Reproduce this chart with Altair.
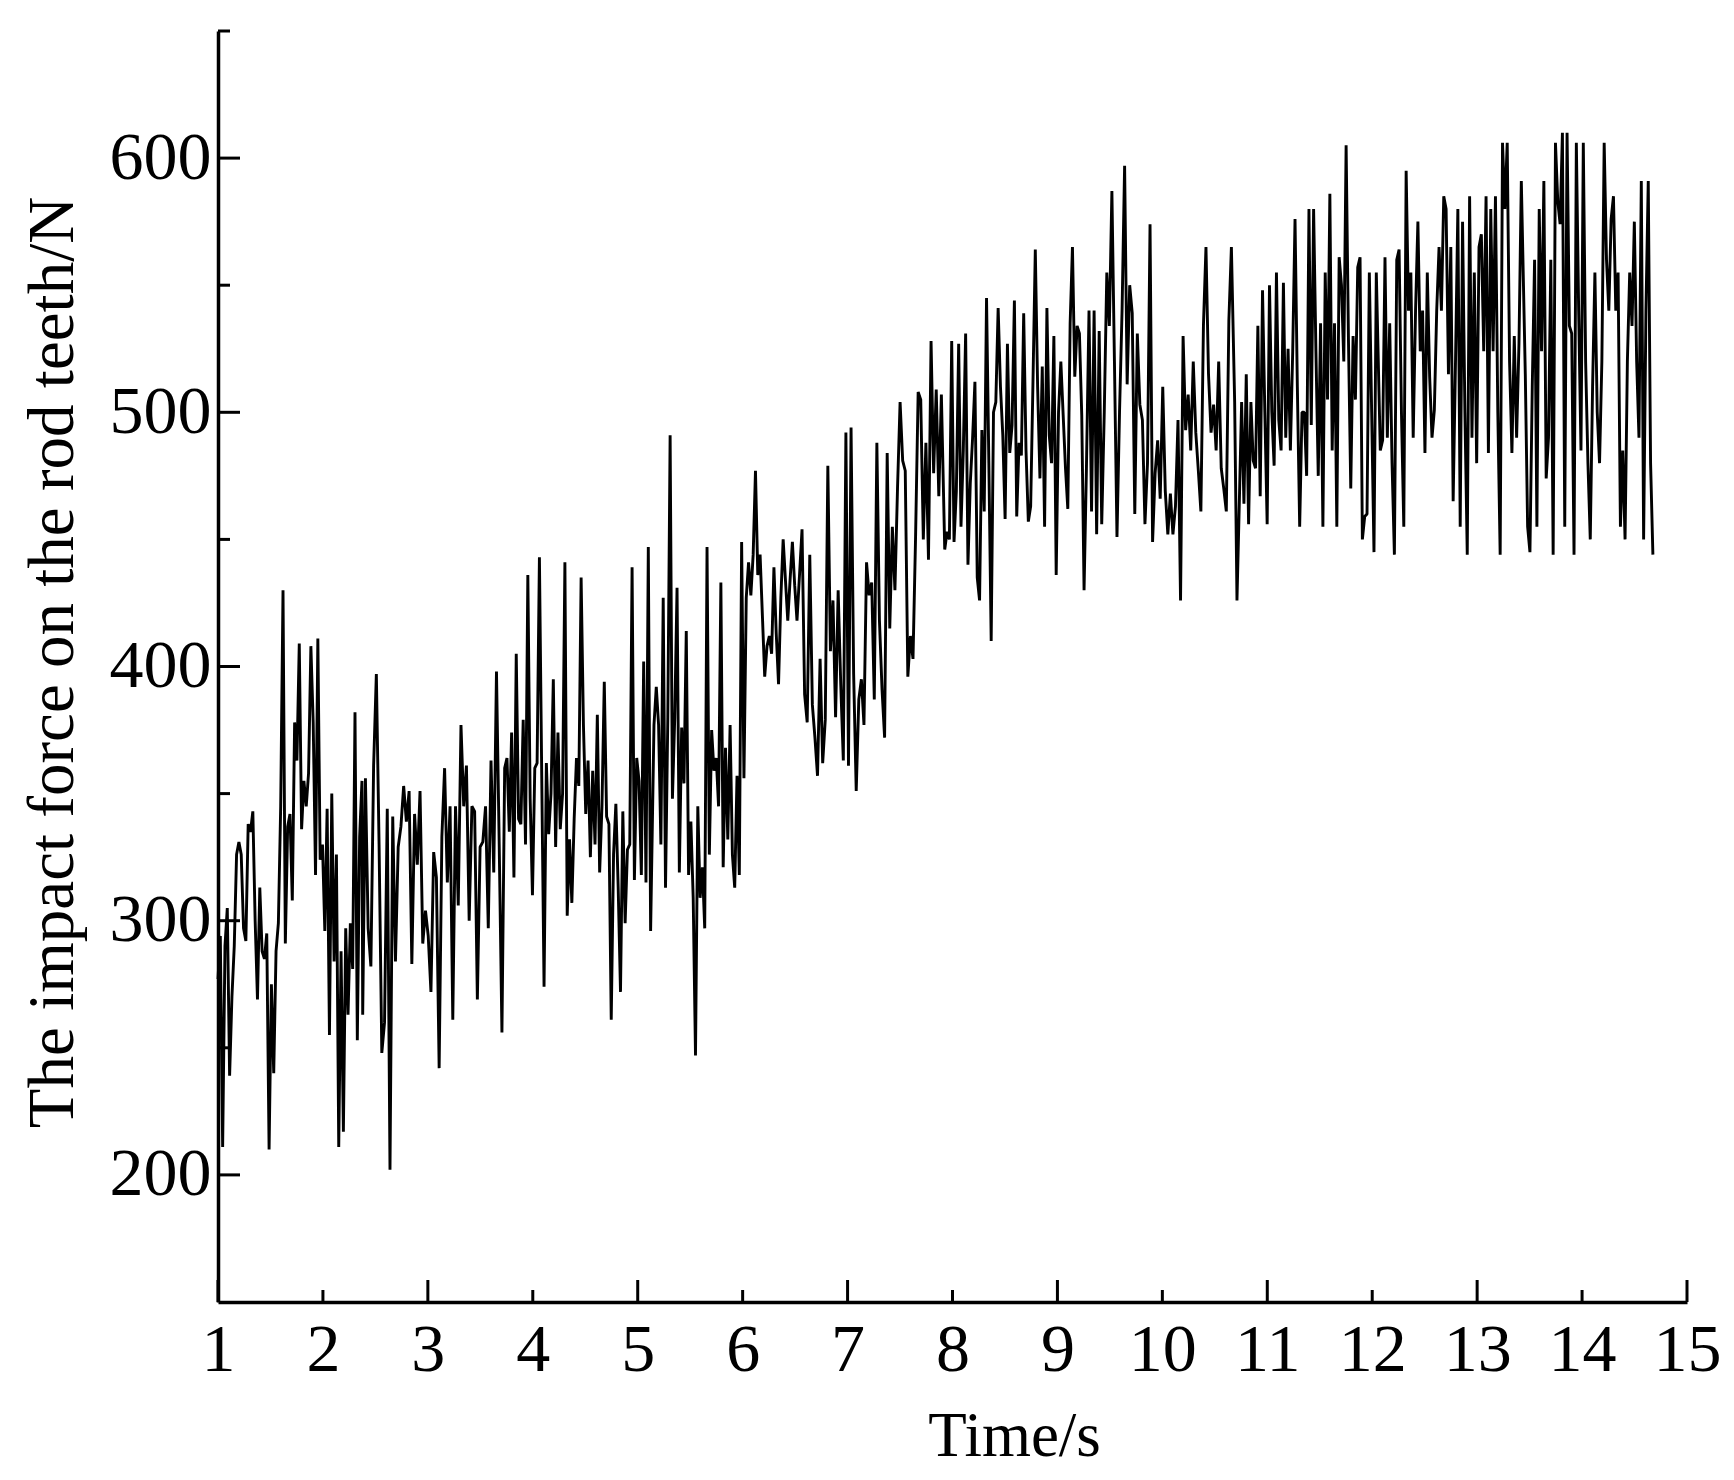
import altair as alt
import pandas as pd

seg_times = [
    (1.000, 2.372), (2.379, 3.706), (3.732, 5.123), (5.155, 6.518), (6.566, 7.894),
    (7.926, 9.276), (9.301, 10.658), (10.689, 12.039), (12.077, 13.421), (13.459, 14.675),
]

force_1 = [277, 294, 211, 290, 305, 239, 270, 290, 326, 331, 326, 297, 292, 338, 335, 343, 300, 269,
           313, 288, 285, 295, 210, 275, 240, 288, 299, 345, 430, 291, 337, 342, 308, 378, 363, 409,
           336, 355, 345, 358, 408, 378, 318, 411, 324, 330, 296, 344, 255, 350, 284, 326, 211, 288,
           217, 297, 263, 299, 281, 382, 253, 333, 355]
force_2 = [263, 356, 297, 282, 361, 397, 330, 248, 260, 344, 202, 341, 284, 329, 337, 353, 339, 351,
           283, 342, 322, 351, 291, 304, 294, 272, 327, 317, 242, 333, 360, 315, 345, 261, 345, 306,
           377, 345, 361, 300, 345, 343, 269, 329, 331, 345, 297, 363, 319, 398, 330, 256]
force_3 = [360, 364, 335, 374, 317, 405, 340, 338, 379, 330, 436, 348, 310, 360, 362, 443, 357, 274,
           362, 334, 350, 395, 329, 374, 336, 350, 441, 302, 332, 307, 340, 364, 353, 435, 377, 342,
           363, 325, 359, 330, 381, 319, 345, 394, 341, 338, 261, 326, 346, 313, 272, 343, 299, 328,
           330, 439, 316, 364, 355, 318, 402, 315, 447, 296]
force_4 = [377, 392, 377, 330, 427, 313, 380, 491, 348, 380, 431, 319, 376, 354, 414, 318, 339, 309,
           247, 345, 309, 321, 297, 447, 326, 375, 359, 364, 345, 433, 321, 368, 332, 377, 326, 313,
           357, 318, 449, 356, 427, 441, 428, 444, 477, 436, 444, 420, 396, 408, 412, 405, 439, 413,
           393, 427, 450, 434, 418, 434, 449, 432, 418]
force_5 = [454, 389, 378, 444, 385, 372, 357, 403, 362, 379, 479, 406, 426, 380, 430, 393, 363, 492,
           361, 494, 397, 351, 387, 395, 377, 441, 428, 433, 387, 488, 418, 391, 372, 484, 415, 455,
           430, 470, 504, 481, 477, 396, 412, 403, 451, 508, 505, 450, 488, 442, 528, 476, 509, 467,
           507]
force_6 = [446, 453, 450, 528, 449, 469, 527, 455, 485, 531, 440, 472, 490, 512, 435, 426, 493, 461,
           545, 480, 410, 500, 504, 541, 510, 491, 458, 527, 484, 495, 544, 459, 488, 483, 539, 485,
           457, 463, 512, 564, 510, 474, 518, 455, 541, 491, 480, 530, 436, 500, 520, 499, 478, 462,
           535, 565, 514, 534, 531, 499, 430, 477]
force_7 = [540, 461, 540, 452, 532, 456, 500, 555, 534, 587, 520, 451, 500, 540, 597, 511, 550, 539,
           460, 531, 503, 497, 456, 480, 574, 449, 476, 489, 466, 510, 469, 452, 468, 452, 463, 497,
           426, 530, 493, 507, 485, 520, 492, 477, 461, 534, 565, 515, 492, 503, 485, 520, 478, 470,
           461, 536, 565]
force_8 = [504, 426, 464, 504, 464, 515, 456, 504, 481, 478, 534, 467, 548, 500, 456, 550, 500, 479,
           555, 497, 485, 551, 490, 525, 485, 524, 576, 510, 455, 500, 500, 475, 580, 495, 580, 524,
           475, 535, 455, 555, 505, 586, 485, 535, 455, 561, 550, 520, 605, 529, 470, 530, 505, 557,
           561, 450, 459, 460, 555, 500, 445, 555]
force_9 = [485, 489, 561, 490, 535, 480, 444, 560, 564, 500, 455, 595, 540, 555, 490, 540, 575, 524,
           540, 484, 555, 514, 490, 501, 540, 565, 540, 585, 580, 515, 565, 465, 520, 580, 455, 575,
           500, 444, 585, 490, 555, 480, 565, 570, 524, 585, 484, 580, 524, 585, 500, 444, 606, 580,
           606, 520, 484, 530, 490, 527, 591]
force_10 = [515, 455, 445, 510, 560, 455, 580, 524, 591, 474, 490, 560, 444, 606, 583, 574, 610, 455,
            610, 534, 531, 444, 606, 540, 485, 606, 520, 480, 450, 510, 555, 500, 480, 520, 606, 560,
            540, 576, 585, 540, 555, 455, 485, 450, 520, 555, 534, 575, 520, 490, 591, 450, 540, 591,
            480, 444]

seg_values = [force_1, force_2, force_3, force_4, force_5,
              force_6, force_7, force_8, force_9, force_10]

x_labels = list(range(1, 16))
x_ticks_major = [1, 3, 5, 7, 9, 11, 13, 15]
x_ticks_minor = [2, 4, 6, 8, 10, 12, 14]
y_labels = [200, 300, 400, 500, 600]
y_ticks_minor = [250, 350, 450, 550, 650]

rows = []
for (t0, t1), vals in zip(seg_times, seg_values):
    n = len(vals)
    for i, v in enumerate(vals):
        rows.append({"t": t0 + (t1 - t0) * i / (n - 1), "f": v})
df = pd.DataFrame(rows)

W, H = 1469, 1271
FONT = "Liberation Serif"
xscale = alt.Scale(domain=[1, 15], nice=False, zero=False)
yscale = alt.Scale(domain=[150, 650], nice=False, zero=False)

x_axis = alt.Axis(values=x_labels, format="d", ticks=False, grid=False,
                  domainColor="black", domainWidth=3.5,
                  labelFont=FONT, labelFontSize=68, labelColor="black",
                  labelPadding=14, labelFlush=False, labelOverlap=False,
                  title="Time/s", titleFont=FONT, titleFontSize=63,
                  titleFontWeight="normal", titleColor="black",
                  titleX=796, titleY=153, titleAlign="center",
                  titleBaseline="alphabetic")
y_axis = alt.Axis(values=y_labels, format="d", ticks=False, grid=False,
                  domainColor="black", domainWidth=3.5,
                  labelFont=FONT, labelFontSize=68, labelColor="black",
                  labelPadding=7, labelFlush=False, labelOverlap=False,
                  title="The impact force on the rod teeth/N", titleFont=FONT,
                  titleFontSize=65, titleFontWeight="normal", titleColor="black",
                  titleAngle=270, titleX=-146, titleY=631, titleAlign="center",
                  titleBaseline="alphabetic")

line = alt.Chart(df).mark_line(color="black", strokeWidth=2.9, strokeJoin="bevel").encode(
    x=alt.X("t:Q", scale=xscale, axis=x_axis),
    y=alt.Y("f:Q", scale=yscale, axis=y_axis),
)

def xticks(vals, length):
    return alt.Chart(pd.DataFrame({"t": vals})).mark_rule(color="black", strokeWidth=3).encode(
        x=alt.X("t:Q", scale=xscale, axis=x_axis),
        y=alt.value(H), y2=alt.value(H - length))

def yticks(vals, length):
    return alt.Chart(pd.DataFrame({"f": vals})).mark_rule(color="black", strokeWidth=3).encode(
        y=alt.Y("f:Q", scale=yscale, axis=y_axis),
        x=alt.value(0), x2=alt.value(length))

chart = alt.layer(
    line,
    xticks(x_ticks_major, 22), xticks(x_ticks_minor, 12),
    yticks(y_labels, 22), yticks(y_ticks_minor, 12),
).properties(
    width=W, height=H,
    padding={"left": 210, "top": 23, "right": 39, "bottom": 175},
    autosize=alt.AutoSizeParams(type="none"),
    background="white",
).configure_view(stroke=None)

chart.save("out.html", embed_options={"renderer": "svg", "actions": False})
